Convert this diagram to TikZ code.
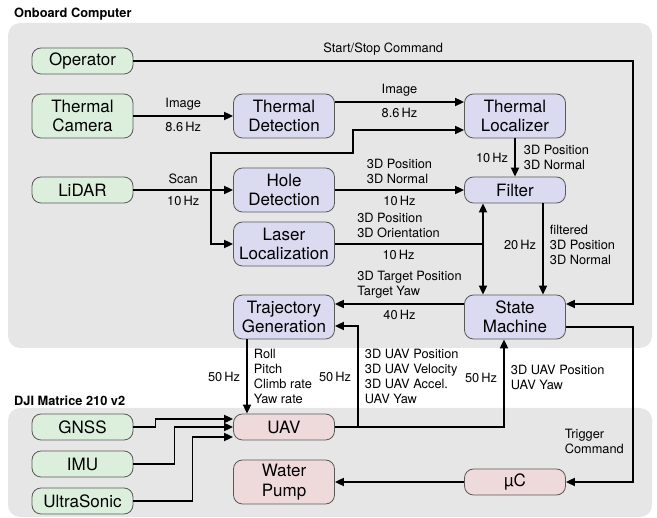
\documentclass[tikz,border=0pt]{standalone}
\usepackage{fontspec}
\setmainfont{TeX Gyre Heros}
\usetikzlibrary{arrows.meta,positioning,calc}
\definecolor{sensorgreen}{RGB}{220,239,221}
\definecolor{procblue}{RGB}{218,218,240}
\definecolor{hwred}{RGB}{239,218,219}
\definecolor{areagray}{RGB}{230,230,230}
\begin{document}
\begin{tikzpicture}[x=1pt,y=-1pt]
	\tikzstyle{every node}+=[inner sep=0pt]
	\tikzstyle{block}=[draw=black!65, line width=0.8pt, rounded corners=9pt, minimum width=101pt, minimum height=26pt, align=center, font=\fontsize{17}{19.5}\selectfont]
	\tikzstyle{tall}=[minimum height=44pt]
	\tikzstyle{sensor}=[block, fill=sensorgreen]
	\tikzstyle{proc}=[block, fill=procblue]
	\tikzstyle{hw}=[block, fill=hwred]
	\tikzstyle{flow}=[draw=black, line width=1.8pt, -{Triangle[length=9pt,width=8pt]}]
	\tikzstyle{dflow}=[draw=black, line width=1.8pt, {Triangle[length=9pt,width=8pt]}-{Triangle[length=9pt,width=8pt]}]
	\tikzstyle{lbl}=[font=\fontsize{12.8}{15}\selectfont, inner sep=2pt, align=left]
	\tikzstyle{areatitle}=[font=\bfseries\fontsize{12.8}{15}\selectfont, anchor=base west]
	\useasboundingbox (0,0) rectangle (657,518);
	\fill [areagray, rounded corners=12pt] (8,23) rectangle (652,348);
	\fill [areagray, rounded corners=12pt] (8,408) rectangle (652,517);
	\node [areatitle] (obc) at (14,17.5) {Onboard Computer};
	\node [areatitle] (dji) at (14,406) {DJI Matrice 210 v2};
	\node [sensor] (op) at (82.5,61) {Operator};
	\node [sensor, tall] (cam) at (82.5,116) {Thermal\\Camera};
	\node [sensor] (lidar) at (82.5,190) {LiDAR};
	\node [proc, tall] (tdet) at (284,116) {Thermal\\Detection};
	\node [proc, tall] (hole) at (284,190) {Hole\\Detection};
	\node [proc, tall] (laser) at (284,244) {Laser\\Localization};
	\node [proc, tall] (traj) at (284,317) {Trajectory\\Generation};
	\node [proc, tall] (tloc) at (515,116) {Thermal\\Localizer};
	\node [proc] (filter) at (515,190) {Filter};
	\node [proc, tall] (sm) at (515,317) {State\\Machine};
	\node [sensor] (gnss) at (82.5,427) {GNSS};
	\node [sensor] (imu) at (82.5,464) {IMU};
	\node [sensor] (us) at (82.5,501) {UltraSonic};
	\node [hw] (uav) at (284,427) {UAV};
	\node [hw, tall] (pump) at (284,482) {Water\\Pump};
	\node [hw] (uc) at (515,482) {µC};
	\coordinate (rbus) at (633,61);
	\coordinate (split) at (211,153);
	\coordinate (jog) at (353,153);
	\coordinate (fback) at (358,427);
	\coordinate (dbl) at ([xshift=-32pt]filter.south);
	\draw [flow] (op.east) -- node[lbl, above=3pt] {Start/Stop Command} (rbus) |- ([yshift=13pt]sm.east);
	\draw [flow] (cam) -- node[lbl, above=3pt] {Image} node[lbl, below=3pt] {8.6\,Hz} (tdet);
	\draw [flow] ([yshift=14pt]tdet.east) -- node[lbl, above=3pt] {Image} node[lbl, below=3pt] {8.6\,Hz} ([yshift=14pt]tloc.west);
	\draw [flow] (lidar) -- node[lbl, above=3pt] {Scan} node[lbl, below=3pt] {10\,Hz} (hole);
	\draw [flow] (lidar.east -| split) |- (laser.west);
	\draw [flow] (lidar.east -| split) -- (split) -- (jog) |- ([yshift=-14pt]tloc.west);
	\draw [flow] (tloc) -- node[lbl, left=4pt] {10\,Hz} node[lbl, right=6pt] {3D Position\\3D Normal} (filter);
	\draw [flow] (hole) -- node[lbl, above=3pt] {3D Position\\3D Normal} node[lbl, below=3pt] {10\,Hz} (filter);
	\draw [line width=1.8pt] (laser.east) -- node[pos=0.43, lbl, above=3pt] {3D Position\\3D Orientation} node[pos=0.43, lbl, below=3pt] {10\,Hz} (laser.east -| dbl);
	\draw [dflow] (dbl) -- (dbl |- sm.north);
	\draw [flow] ([xshift=28pt]filter.south) -- node[pos=0.45, lbl, left=4pt] {20\,Hz} node[pos=0.45, lbl, right=4pt] {filtered\\3D Position\\3D Normal} ([xshift=28pt]sm.north);
	\draw [flow] ([yshift=13pt]sm.west) -- node[lbl, above=3pt, xshift=10pt] {3D Target Position\\Target Yaw} node[lbl, below=3pt] {40\,Hz} ([yshift=13pt]traj.east);
	\draw [flow] ([xshift=-37pt]traj.south) -- node[lbl, left=4pt] {50\,Hz} node[lbl, right=4pt] {Roll\\Pitch\\Climb rate\\Yaw rate} ([xshift=-37pt]uav.north);
	\draw [flow] (uav.east) -| node[pos=0.78, lbl, left=4pt] {50\,Hz} node[pos=0.78, lbl, right=4pt] {3D UAV Position\\UAV Yaw} ([xshift=-11pt]sm.south);
	\draw [flow] (fback) |- node[pos=0.25, lbl, left=4pt] {50\,Hz} node[pos=0.25, lbl, right=4pt] {3D UAV Position\\3D UAV Velocity\\3D UAV Accel.\\UAV Yaw} ([yshift=-9pt]traj.east);
	\draw [flow] ([yshift=-10pt]sm.east) -| (rbus |- uc.east) -- (uc.east);
	\node [lbl, anchor=east] (trig) at (626,441) {Trigger\\Command};
	\draw [flow] (uc) -- (pump);
	\draw [flow] (gnss.east) -- ++(22,0) |- ([yshift=8pt]uav.west);
	\draw [flow] (imu.east) -- ++(41,0) |- (uav.west);
	\draw [flow] (us.east) -- ++(59,0) |- ([yshift=-10pt]uav.west);
\end{tikzpicture}
\end{document}
